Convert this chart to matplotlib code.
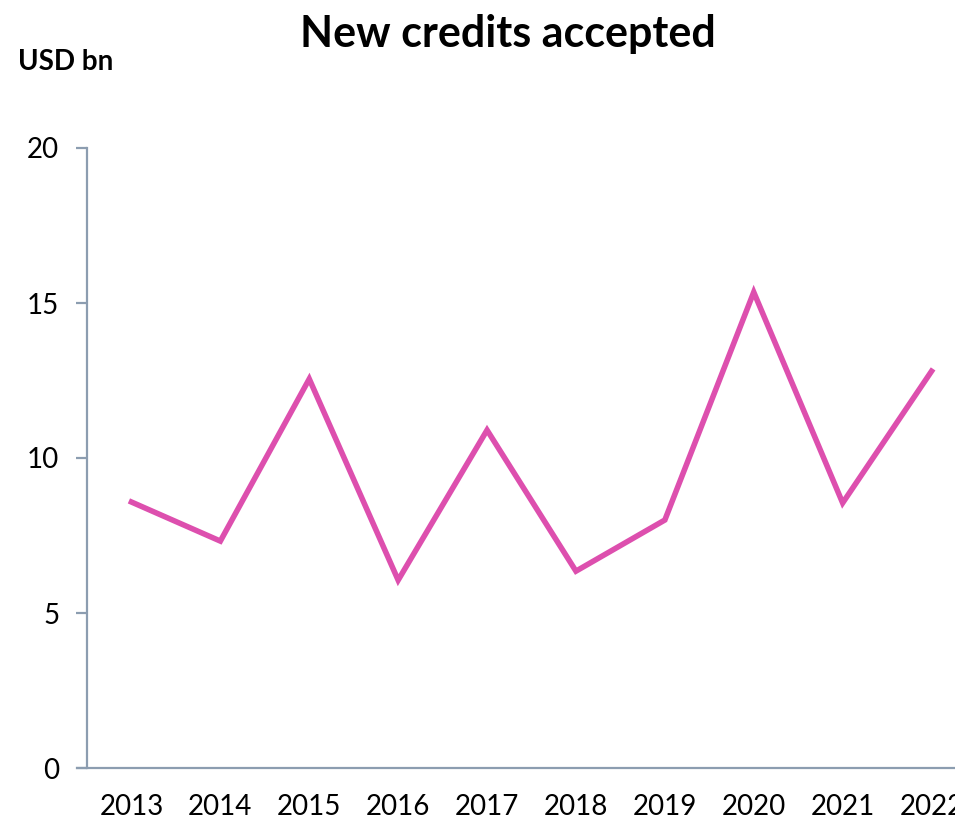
import matplotlib
matplotlib.use("Agg")
import matplotlib.pyplot as plt

years = ["2013", "2014", "2015", "2016", "2017", "2018", "2019", "2020", "2021", "2022"]
values = [8.58, 7.32, 12.55, 6.06, 10.9, 6.35, 8.0, 15.35, 8.55, 12.8]

plt.rcParams['font.family'] = ['Lato', 'DejaVu Sans']

fig = plt.figure(figsize=(9.55, 8.22), dpi=100)
ax = fig.add_axes([87/955, 1 - 768/822, (976 - 87)/955, (768 - 148)/822])

x = list(range(len(years)))
ax.plot(x, values, color="#DD4FAE", linewidth=4.0, solid_joinstyle="miter", clip_on=False)

ax.set_xlim(-0.5, len(years) - 0.5)
ax.set_ylim(0, 20)
ax.set_yticks([0, 5, 10, 15, 20])
ax.set_xticks(x)
ax.set_xticklabels(years)

axis_col = "#8C9DB0"
for s in ["top", "right"]:
    ax.spines[s].set_visible(False)
ax.spines["left"].set_color(axis_col)
ax.spines["bottom"].set_color(axis_col)
ax.spines["left"].set_linewidth(1.6)
ax.spines["bottom"].set_linewidth(1.6)
ax.spines["bottom"].set_bounds(-0.5 - 10/89, len(years) - 0.5)

ax.tick_params(axis="y", length=8, width=1.6, color=axis_col, labelsize=20, pad=12)
ax.tick_params(axis="x", length=0, labelsize=20, pad=19)

fig.text(0.532, 0.959, "New credits accepted", ha="center", va="center", fontsize=31, fontweight="bold")
fig.text(0.019, 0.924, "USD bn", ha="left", va="center", fontsize=20, fontweight="bold")

fig.savefig("out.png", dpi=100)
